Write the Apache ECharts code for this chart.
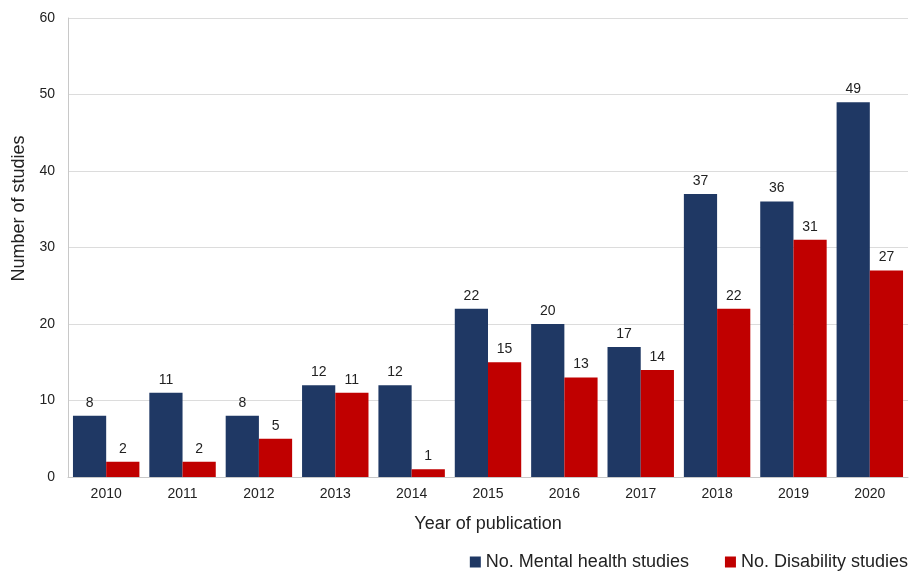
<!DOCTYPE html>
<html>
<head>
<meta charset="utf-8">
<script src="https://cdn.jsdelivr.net/npm/echarts@6/dist/echarts.min.js"></script>
<style>
  html, body { margin: 0; padding: 0; background: #fff; }
  #chart { width: 910px; height: 574px; }
</style>
</head>
<body>
<div id="chart"></div>
<script>
// Publications per year, by study type
const years = ['2010', '2011', '2012', '2013', '2014', '2015', '2016', '2017', '2018', '2019', '2020'];
const mentalHealth = [8, 11, 8, 12, 12, 22, 20, 17, 37, 36, 49];
const disability = [2, 2, 5, 11, 1, 15, 13, 14, 22, 31, 27];
const yTicks = { min: 0, max: 60, interval: 10 };

const font = 'Liberation Sans, Arial, sans-serif';
const chart = echarts.init(document.getElementById('chart'));

const labelStyle = {
  show: true,
  position: 'top',
  distance: 6,
  color: '#222',
  fontSize: 14,
  fontFamily: font
};

chart.setOption({
  animation: false,
  textStyle: { fontFamily: font },
  grid: { left: 68, right: 2, top: 18, bottom: 97, containLabel: false, outerBoundsMode: 'none' },
  legend: {
    right: 2,
    top: 553,
    itemWidth: 11,
    itemHeight: 11,
    itemGap: 36,
    itemTextGap: 4,
    icon: 'rect',
    padding: 0,
    textStyle: { fontSize: 18, color: '#222', fontFamily: font },
    data: ['No. Mental health studies', 'No. Disability studies']
  },
  xAxis: {
    type: 'category',
    data: years,
    name: 'Year of publication',
    nameLocation: 'middle',
    nameGap: 38,
    nameTextStyle: { fontSize: 18, color: '#222', fontFamily: font },
    axisLine: { lineStyle: { color: '#c8c8c8', width: 1 } },
    axisTick: { show: false },
    axisLabel: { color: '#222', fontSize: 14, margin: 10, fontFamily: font }
  },
  yAxis: {
    type: 'value',
    min: yTicks.min,
    max: yTicks.max,
    interval: yTicks.interval,
    name: 'Number of studies',
    nameLocation: 'middle',
    nameGap: 39,
    nameTextStyle: { fontSize: 18, color: '#222', fontFamily: font, padding: [0, 0, 0, 78] },
    axisLine: { show: true, lineStyle: { color: '#c8c8c8', width: 1 } },
    axisTick: { show: false },
    splitLine: { lineStyle: { color: '#dcdcdc', width: 1 } },
    axisLabel: { color: '#222', fontSize: 14, margin: 13, fontFamily: font }
  },
  series: [
    {
      name: 'No. Mental health studies',
      type: 'bar',
      data: mentalHealth,
      barGap: '0%',
      barCategoryGap: '13%',
      itemStyle: { color: '#1f3864' },
      label: labelStyle
    },
    {
      name: 'No. Disability studies',
      type: 'bar',
      data: disability,
      barGap: '0%',
      barCategoryGap: '13%',
      itemStyle: { color: '#c00000' },
      label: labelStyle
    }
  ]
});
</script>
</body>
</html>
